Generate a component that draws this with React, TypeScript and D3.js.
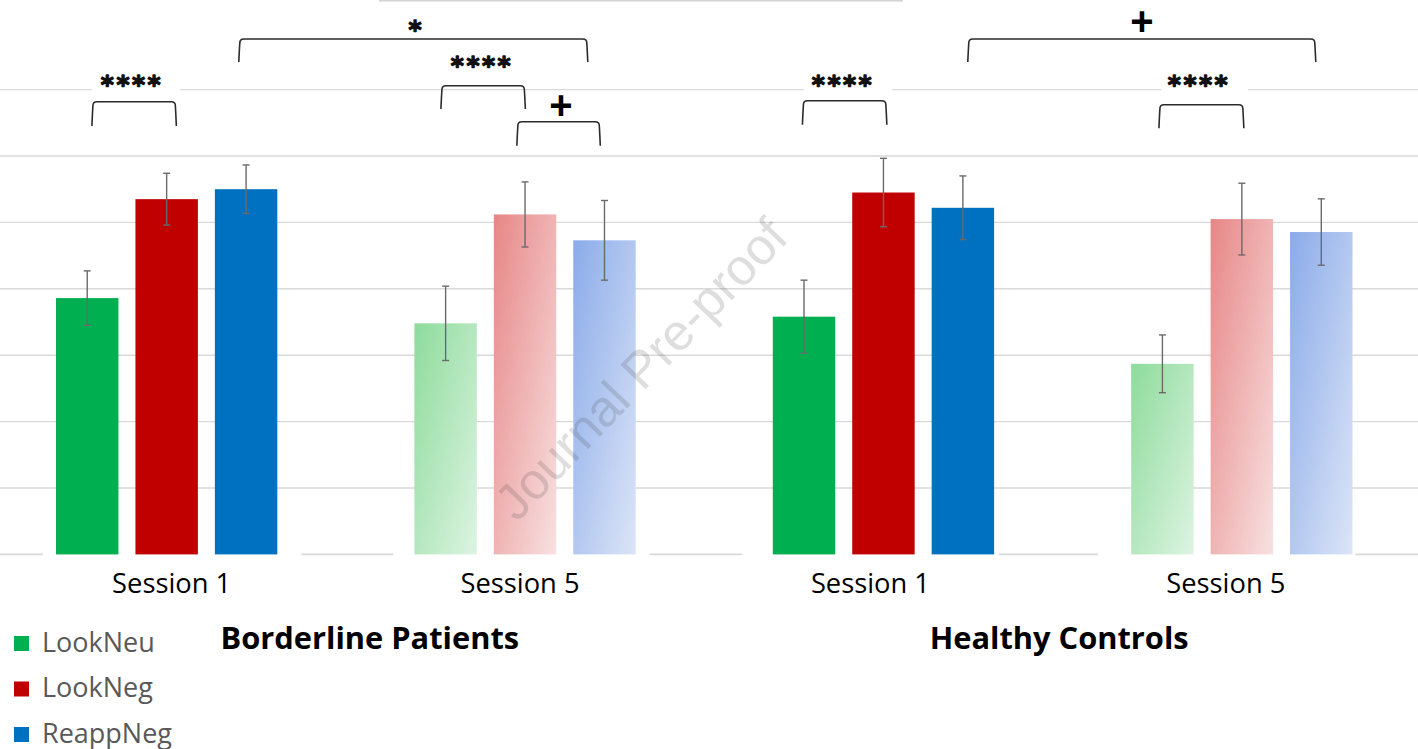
import React from "react";
import * as d3 from "d3";

// Conditions: two groups x two sessions
const GROUP_KEYS = ["BP-S1", "BP-S5", "HC-S1", "HC-S5"];
const SESSION_LABELS = ["Session 1", "Session 5", "Session 1", "Session 5"];
const SESSION_SHADE = ["solid", "faded", "solid", "faded"];
const GROUP_TITLES = ["Borderline Patients", "Healthy Controls"];

// Series (conditions of the task)
const SERIES = ["LookNeu", "LookNeg", "ReappNeg"];

// Means and error-bar half widths per condition
const LOOK_NEU = [3.86, 3.48, 3.58, 2.87];
const LOOK_NEU_ERR = [0.41, 0.56, 0.55, 0.435];
const LOOK_NEG = [5.35, 5.12, 5.45, 5.05];
const LOOK_NEG_ERR = [0.39, 0.49, 0.515, 0.54];
const REAPP_NEG = [5.5, 4.73, 5.22, 4.855];
const REAPP_NEG_ERR = [0.365, 0.6, 0.48, 0.5];

const GRID_TICKS = [1, 2, 3, 4, 5, 6, 7];

// Significance brackets: between two bars (group index, series index)
const BRACKETS = [
  { from: [0, 0], to: [0, 1], label: "****" },
  { from: [0, 2], to: [1, 2], label: "*" },
  { from: [1, 0], to: [1, 1], label: "****" },
  { from: [1, 1], to: [1, 2], label: "+" },
  { from: [2, 2], to: [3, 2], label: "+" },
  { from: [2, 0], to: [2, 1], label: "****" },
  { from: [3, 0], to: [3, 1], label: "****" },
];

// ---- layout ----
const W = 1418;
const H = 749;
const BASE_Y = 554.4;
const TOP_Y = 89.6;
const COLORS = ["#00b050", "#c00000", "#0070c0"];
const FADED = [
  ["#8ddb9b", "#ddf4e2"],
  ["#e78686", "#f8e1e1"],
  ["#8aabe9", "#dce5f7"],
];
// bracket geometry (pixel nudges, top y, leg length) and label anchors
const BRACKET_LAYOUT = [
  { dx: [5.7, 8.7], top: 101.7, leg: 24.3, lx: 132, ly: 81, knock: [92, 180] },
  { dx: [-6.3, -17.7], top: 39, leg: 23, lx: 415, ly: 26 },
  { dx: [-3.7, -0.7], top: 85.7, leg: 23.3, lx: 482, ly: 62 },
  { dx: [-7.2, -5.2], top: 121.7, leg: 24, lx: 561, ly: 105 },
  { dx: [5.9, -6.5], top: 39, leg: 23, lx: 1142, ly: 21 },
  { dx: [-0.6, 2.4], top: 100.7, leg: 24, lx: 843, ly: 81, knock: [804, 892] },
  { dx: [-2.5, 1], top: 104.7, leg: 23.6, lx: 1199, ly: 81, knock: [1161, 1248] },
];
const SESSION_NUDGE = [5, -5, -13, -16];
const BASE_COVER = [
  [13, 24],
  [21, 14],
  [31, 5],
  [33, 3],
];

export default function App() {
  const means = [LOOK_NEU, LOOK_NEG, REAPP_NEG];
  const errs = [LOOK_NEU_ERR, LOOK_NEG_ERR, REAPP_NEG_ERR];

  const x0 = d3
    .scaleBand<string>()
    .domain(GROUP_KEYS)
    .range([56, 1352.5])
    .paddingInner(0.3825)
    .paddingOuter(0);
  const x1 = d3
    .scaleBand<string>()
    .domain(SERIES)
    .range([0, x0.bandwidth()])
    .paddingInner(0.214)
    .paddingOuter(0);
  const y = d3.scaleLinear().domain([0, 7]).range([BASE_Y, TOP_Y]);

  const barCenter = (g: number, s: number) =>
    (x0(GROUP_KEYS[g]) as number) + (x1(SERIES[s]) as number) + x1.bandwidth() / 2;

  const bracketPath = (xa: number, xb: number, top: number, leg: number) => {
    const r = 4;
    return `M${xa - 1},${top + leg} C${xa - 0.5},${top + leg * 0.5} ${xa},${top + r} ${xa},${top + r}
      Q${xa},${top} ${xa + r},${top} L${xb - r},${top} Q${xb},${top} ${xb},${top + r}
      C${xb},${top + r} ${xb + 0.5},${top + leg * 0.5} ${xb + 1},${top + leg}`;
  };

  const groupCenters = [0, 1].map((k) => {
    const a = x0(GROUP_KEYS[k * 2]) as number;
    const b = (x0(GROUP_KEYS[k * 2 + 1]) as number) + x0.bandwidth();
    return (a + b) / 2;
  });

  return (
    <svg
      width={W}
      height={H}
      viewBox={`0 0 ${W} ${H}`}
      style={{ position: "absolute", left: 0, top: 0, background: "#fff" }}
    >
      <defs>
        {FADED.map((c, i) => (
          <linearGradient key={i} id={`fade-${i}`} x1="0" y1="0" x2="1" y2="1">
            <stop offset="0" stopColor={c[0]} />
            <stop offset="1" stopColor={c[1]} />
          </linearGradient>
        ))}
      </defs>
      <rect width={W} height={H} fill="#fff" />

      {/* strip at the very top */}
      <line x1={379} x2={903} y1={0.8} y2={0.8} stroke="#d4d4d4" strokeWidth={1.6} />

      {/* horizontal gridlines */}
      <g>
        {GRID_TICKS.map((t) => (
          <line
            key={t}
            x1={0}
            x2={W}
            y1={y(t)}
            y2={y(t)}
            stroke="#d9d9d9"
            strokeWidth={1.4}
          />
        ))}
      </g>

      {/* baseline, hidden under each cluster */}
      <line x1={0} x2={W} y1={y(0)} y2={y(0)} stroke="#d9d9d9" strokeWidth={1.8} />
      {GROUP_KEYS.map((g, i) => {
        const gx = x0(g) as number;
        return (
          <rect
            key={g}
            x={gx - BASE_COVER[i][0]}
            y={y(0) - 3}
            width={x0.bandwidth() + BASE_COVER[i][0] + BASE_COVER[i][1]}
            height={6}
            fill="#fff"
          />
        );
      })}

      {/* bars */}
      {GROUP_KEYS.map((g, gi) => (
        <g key={g} transform={`translate(${x0(g)},0)`}>
          {SERIES.map((s, si) => {
            const v = means[si][gi];
            const fill =
              SESSION_SHADE[gi] === "solid" ? COLORS[si] : `url(#fade-${si})`;
            return (
              <rect
                key={s}
                x={x1(s)}
                y={y(v)}
                width={x1.bandwidth()}
                height={y(0) - y(v)}
                fill={fill}
              />
            );
          })}
        </g>
      ))}

      {/* error bars */}
      {GROUP_KEYS.map((g, gi) =>
        SERIES.map((s, si) => {
          const cx = barCenter(gi, si);
          const v = means[si][gi];
          const e = errs[si][gi];
          const ya = y(v + e);
          const yb = y(v - e);
          return (
            <g key={`${g}-${s}`} stroke="#6a6a6a" strokeWidth={1.4}>
              <line x1={cx} x2={cx} y1={ya} y2={yb} />
              <line x1={cx - 3.5} x2={cx + 3.5} y1={ya} y2={ya} />
              <line x1={cx - 3.5} x2={cx + 3.5} y1={yb} y2={yb} />
            </g>
          );
        })
      )}

      {/* watermark */}
      <text
        x={0}
        y={0}
        transform="translate(641,369) rotate(-46)"
        textAnchor="middle"
        dominantBaseline="central"
        fontFamily="'Liberation Sans', Arial, sans-serif"
        fontSize={51}
        fill="rgba(60,60,60,0.17)"
      >
        Journal Pre-proof
      </text>

      {/* significance brackets */}
      {BRACKETS.map((b, i) => {
        const L = BRACKET_LAYOUT[i];
        const xa = barCenter(b.from[0], b.from[1]) + L.dx[0];
        const xb = barCenter(b.to[0], b.to[1]) + L.dx[1];
        const isPlus = b.label === "+";
        return (
          <g key={i}>
            {L.knock && (
              <rect
                x={L.knock[0]}
                y={L.ly - 14}
                width={L.knock[1] - L.knock[0]}
                height={26}
                fill="#fff"
              />
            )}
            <path
              d={bracketPath(xa, xb, L.top, L.leg)}
              fill="none"
              stroke="#2b2b2b"
              strokeWidth={1.6}
            />
            {isPlus ? (
              <text
                x={L.lx}
                y={L.ly + 13.5}
                textAnchor="middle"
                fontFamily="'Liberation Sans', Arial, sans-serif"
                fontWeight="bold"
                fontSize={40}
                fill="#000"
              >
                +
              </text>
            ) : (
              <text
                x={L.lx}
                y={L.ly + 12}
                textAnchor="middle"
                fontFamily="'DejaVu Sans', sans-serif"
                fontWeight="bold"
                fontSize={25}
                letterSpacing={b.label.length > 1 ? 2.5 : 0}
                fill="#111"
                stroke="#111"
                strokeWidth={1.3}
                strokeLinejoin="round"
              >
                {b.label}
              </text>
            )}
          </g>
        );
      })}

      {/* session labels */}
      {GROUP_KEYS.map((g, gi) => (
        <text
          key={g}
          x={(x0(g) as number) + x0.bandwidth() / 2 + SESSION_NUDGE[gi]}
          y={593}
          textAnchor="middle"
          fontFamily="'Open Sans', sans-serif"
          fontSize={27.3}
          fill="#000"
        >
          {SESSION_LABELS[gi]}
        </text>
      ))}

      {/* group titles */}
      {GROUP_TITLES.map((t, k) => (
        <text
          key={t}
          x={groupCenters[k] + (k === 0 ? 24 : -3.5)}
          y={649}
          textAnchor="middle"
          fontFamily="'Open Sans', sans-serif"
          fontWeight="bold"
          fontSize={30.8}
          fill="#000"
        >
          {t}
        </text>
      ))}

      {/* legend */}
      {SERIES.map((s, i) => (
        <g key={s} transform={`translate(14,${636 + i * 45.5})`}>
          <rect x={0} y={0} width={15} height={15} fill={COLORS[i]} />
          <text
            x={28}
            y={15.5}
            fontFamily="'Open Sans', sans-serif"
            fontSize={27}
            fill="#595959"
          >
            {s}
          </text>
        </g>
      ))}
    </svg>
  );
}
